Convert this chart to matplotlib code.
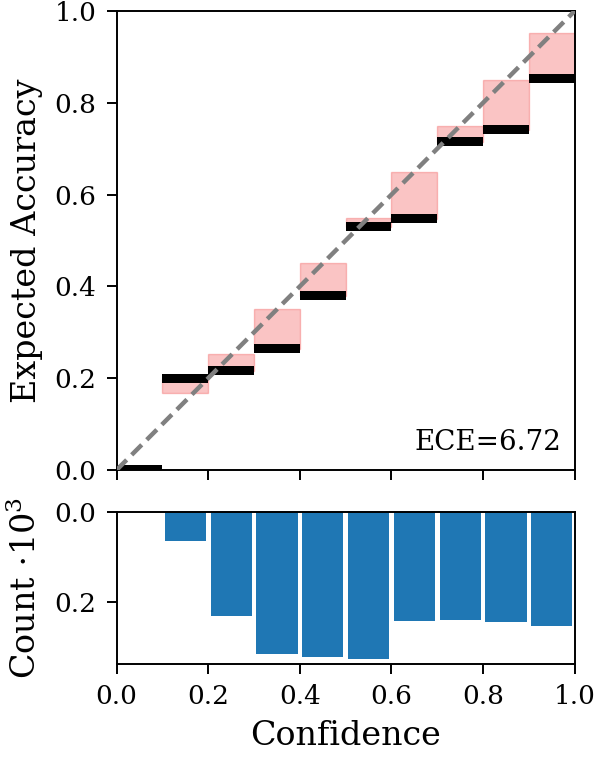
import numpy as np
import matplotlib
matplotlib.use("Agg")
import matplotlib.pyplot as plt

# ----------- DATA -----------
bin_edges = [0.0, 0.1, 0.2, 0.3, 0.4, 0.5, 0.6, 0.7, 0.8, 0.9, 1.0]
accuracies = [0.000, 0.199, 0.216, 0.264, 0.380, 0.530, 0.547, 0.715, 0.741, 0.853]
confidences = [0.000, 0.167, 0.253, 0.351, 0.450, 0.548, 0.650, 0.750, 0.850, 0.953]
counts_k = [0.000, 0.064, 0.230, 0.315, 0.321, 0.325, 0.241, 0.239, 0.243, 0.252]
ece_text = "ECE=6.72"
ticks = [0.0, 0.2, 0.4, 0.6, 0.8, 1.0]

# ----------- STYLE -----------
plt.rcParams["font.family"] = ["DejaVu Serif"]
plt.rcParams["mathtext.fontset"] = "dejavuserif"
plt.rcParams["axes.linewidth"] = 1.4
for k in ("xtick", "ytick"):
    plt.rcParams[f"{k}.major.size"] = 7
    plt.rcParams[f"{k}.major.width"] = 1.4
    plt.rcParams[f"{k}.major.pad"] = 7.5

TICK_FS = 19
LABEL_FS = 24

edges = np.array(bin_edges)
widths = np.diff(edges)
centers = edges[:-1] + widths / 2
acc = np.array(accuracies)
conf = np.array(confidences)

fig = plt.figure(figsize=(5.98, 7.58), dpi=100)
ax = fig.add_axes([0.195, 0.380, 0.766, 0.6055])
ax2 = fig.add_axes([0.195, 0.124, 0.766, 0.201])

# ----------- RELIABILITY DIAGRAM -----------
gap_col = (240 / 255, 60 / 255, 60 / 255, 0.3)
ax.bar(centers, np.abs(acc - conf), bottom=np.minimum(acc, conf), width=widths,
       color=gap_col, edgecolor=gap_col, linewidth=1.0, zorder=2)
ax.bar(centers, 0.02, bottom=acc - 0.01, width=widths,
       color="black", linewidth=0, zorder=3)
ax.plot([0, 1], [0, 1], linestyle="--", color="gray", linewidth=3.2,
        dashes=(3.2, 1.6), zorder=4)
ax.text(0.97, 0.03, ece_text, transform=ax.transAxes, ha="right", va="bottom",
        fontsize=20)
ax.set_xlim(0, 1)
ax.set_ylim(0, 1)
ax.set_xticks(ticks)
ax.set_xticklabels([])
ax.set_yticks(ticks)
ax.tick_params(labelsize=TICK_FS)
ax.set_ylabel("Expected Accuracy", fontsize=LABEL_FS, labelpad=8)

# ----------- COUNTS HISTOGRAM -----------
ax2.bar(centers, counts_k, width=widths * 0.9, color="#1f77b4")
ax2.set_xlim(0, 1)
ax2.set_ylim(0.336, 0)
ax2.set_xticks(ticks)
ax2.set_xticklabels([f"{t:.1f}" for t in ticks])
ax2.set_yticks([0.0, 0.2])
ax2.tick_params(labelsize=TICK_FS)
ax2.set_xlabel("Confidence", fontsize=LABEL_FS, labelpad=7.5)
ax2.set_ylabel(r"Count $\cdot 10^3$", fontsize=LABEL_FS, labelpad=8)

fig.align_ylabels([ax, ax2])
fig.savefig("out.png", dpi=100)
